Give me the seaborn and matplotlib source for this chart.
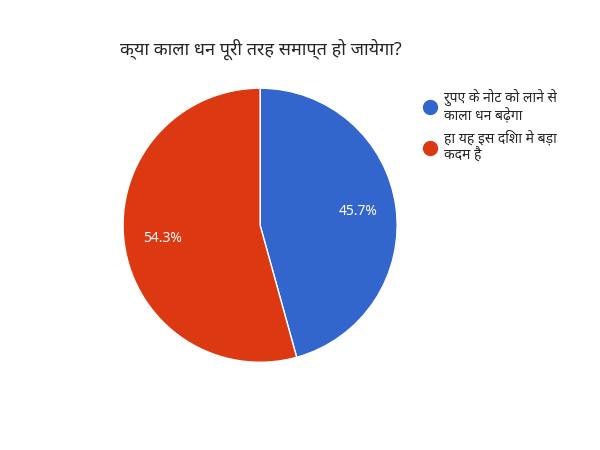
import matplotlib
matplotlib.use("Agg")
import matplotlib.pyplot as plt
import seaborn as sns
from matplotlib.lines import Line2D

sns.set_style("white")
plt.rcParams["font.family"] = ["Noto Sans", "DejaVu Sans"]

title = "क्या काला धन पूरी तरह समाप्त हो जायेगा?"
labels = ["रुपए के नोट को लाने से\nकाला धन बढ़ेगा", "हा यह इस दिशा मे बड़ा\nकदम है"]
values = [45.7, 54.3]
colors = ["#3366CC", "#DC3912"]

fig = plt.figure(figsize=(6, 4.5), dpi=100)
ax = fig.add_axes([0.205, 0.195, 0.457, 0.609])
ax.pie(values, colors=colors, startangle=90, counterclock=False,
       autopct="%.1f%%", pctdistance=0.72,
       textprops={"color": "white", "fontsize": 10},
       wedgeprops={"edgecolor": "white", "linewidth": 1})
ax.set_xlim(-1.0, 1.0)
ax.set_ylim(-1.0, 1.0)
ax.set_aspect("equal")
ax.axis("off")

fig.text(0.2, 0.89, title, fontsize=13, fontweight="bold", ha="left", va="center")

handles = [Line2D([], [], marker="o", linestyle="", markersize=10,
                  markerfacecolor=c, markeredgecolor=c) for c in colors]
fig.legend(handles, labels, loc="upper left", bbox_to_anchor=(0.685, 0.83),
           frameon=False, fontsize=10, handlelength=1.0, handletextpad=0.5,
           labelspacing=0.5)

fig.savefig("out.png", dpi=100)
